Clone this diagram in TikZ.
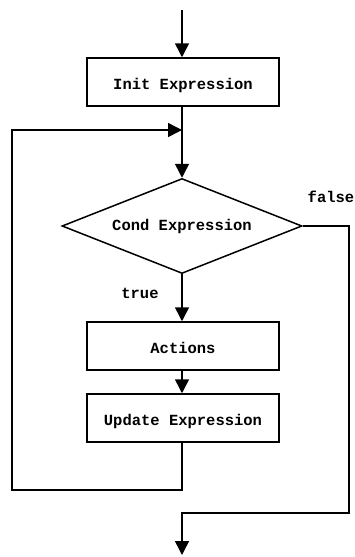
\documentclass[tikz,border=0pt]{standalone}
\usepackage{fontspec}
\usepackage{tikz}
\usetikzlibrary{shapes.geometric,arrows.meta}
\newfontfamily\flowfont{Liberation Mono}

\tikzset{
  flowbox/.style={draw, minimum width=192pt, minimum height=48pt, inner sep=0pt,
    text height=17pt, text depth=3pt},
  condbox/.style={draw, diamond, aspect=2.5, minimum width=240pt, minimum height=95pt, inner sep=0pt},
  flowlabel/.style={inner sep=0pt}
}

\begin{document}
\begin{tikzpicture}[x=1pt,y=-1pt,line width=1.5pt,
  >={Triangle[length=14pt,width=14pt]},
  font={\flowfont\bfseries\fontsize{15.5}{18}\selectfont}]
\useasboundingbox (0,0) rectangle (355,557);

\coordinate (start) at (182,10);
\node[flowbox] (init) at (183,82) {Init Expression};
\coordinate (join) at (182,130);
\node[condbox] (cond) at (182,226) {Cond Expression};
\node[flowbox] (actions) at (183,346) {Actions};
\node[flowbox] (update) at (183,418) {Update Expression};

\node[flowlabel] (falselbl) at (331,197) {false};
\node[flowlabel] (truelbl) at (140,293) {true};

% main line
\draw[->] (start) -- (init.north -| start);
\draw[->] (init.south -| start) -- (cond.north);
\draw[->] (cond.south) -- (actions.north -| start);
\draw[->] (actions.south -| start) -- (update.north -| start);

% loop back
\coordinate (loopcorner) at (12,490);
\draw[->] (update.south -| start) |- (loopcorner) |- (join);

% exit
\coordinate (exitcorner) at (349,513);
\coordinate (stop) at (182,555);
\draw[->] (cond.east) -| (exitcorner) -| (stop);
\end{tikzpicture}
\end{document}
